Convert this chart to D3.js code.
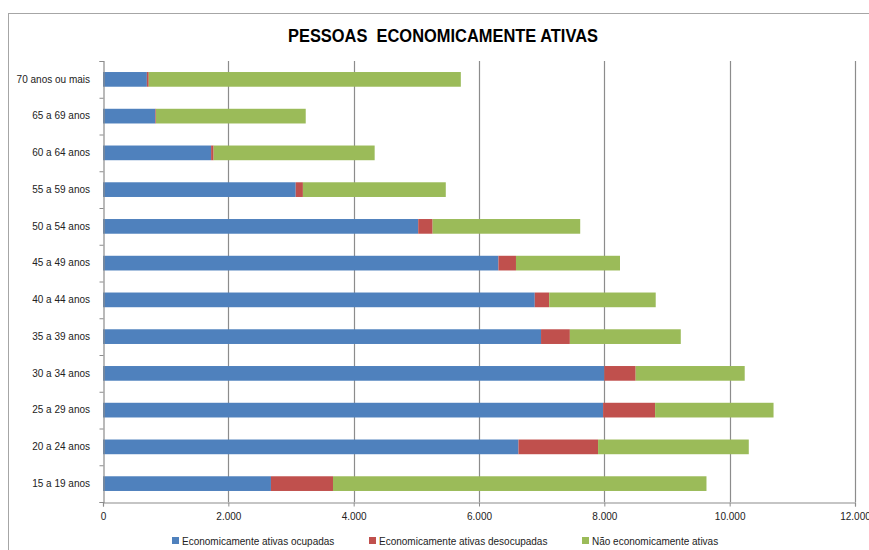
<!DOCTYPE html>
<html>
<head>
<meta charset="utf-8">
<script src="https://cdn.jsdelivr.net/npm/d3@7"></script>
<style>
  body { margin: 0; background: #fff; }
  svg { display: block; }
</style>
</head>
<body>
<div id="chart"></div>
<script>
// Faixas etarias, de baixo para cima
const categories = [
  '15 a 19 anos', '20 a 24 anos', '25 a 29 anos', '30 a 34 anos',
  '35 a 39 anos', '40 a 44 anos', '45 a 49 anos', '50 a 54 anos',
  '55 a 59 anos', '60 a 64 anos', '65 a 69 anos', '70 anos ou mais',
];
const ocupadas = [2680, 6630, 7980, 8000, 6990, 6890, 6310, 5030, 3075, 1725, 835, 700];
const desocupadas = [990, 1270, 830, 500, 460, 230, 280, 230, 115, 40, 10, 30];
const naoAtivas = [5960, 2405, 1890, 1740, 1770, 1700, 1660, 2355, 2280, 2570, 2390, 4980];
const seriesNames = [
  'Economicamente ativas ocupadas',
  'Economicamente ativas desocupadas',
  'Não economicamente ativas',
];
const colors = ['#4F81BD', '#C0504D', '#9BBB59'];
const xTicks = [0, 2000, 4000, 6000, 8000, 10000, 12000];

const width = 869;
const height = 550;
const plot = { left: 103, right: 855, top: 61, bottom: 502 };
const font = "'Liberation Sans', Arial, sans-serif";

const locale = d3.formatLocale({
  decimal: ',', thousands: '.', grouping: [3], currency: ['R$', ''],
});
const fmt = locale.format(',d');

const svg = d3.select('#chart')
  .append('svg')
  .attr('width', width)
  .attr('height', height);

// chart border
svg.append('rect')
  .attr('x', 8.5)
  .attr('y', 13.5)
  .attr('width', 900)
  .attr('height', 600)
  .attr('fill', '#fff')
  .attr('stroke', '#a6a6a6')
  .attr('stroke-width', 1);

svg.append('text')
  .attr('x', 288)
  .attr('y', 42)
  .attr('textLength', 310)
  .attr('lengthAdjust', 'spacingAndGlyphs')
  .style('font-family', font)
  .style('font-weight', 'bold')
  .style('font-size', '19px')
  .style('white-space', 'pre')
  .attr('fill', '#000')
  .text('PESSOAS  ECONOMICAMENTE ATIVAS');

const x = d3.scaleLinear().domain([0, 12000]).range([plot.left, plot.right]);
const y = d3.scaleBand()
  .domain(categories.slice().reverse())
  .range([plot.top, plot.bottom])
  .paddingInner(0.6)
  .paddingOuter(0.3);

// gridlines
svg.append('g')
  .selectAll('line')
  .data(xTicks.slice(1))
  .enter()
  .append('line')
  .attr('x1', (d) => Math.round(x(d)) + 0.5)
  .attr('x2', (d) => Math.round(x(d)) + 0.5)
  .attr('y1', plot.top)
  .attr('y2', plot.bottom)
  .attr('stroke', '#8c8c8c')
  .attr('stroke-width', 1.2);

// stacked bars
const rows = categories.map((c, i) => ({ c, v: [ocupadas[i], desocupadas[i], naoAtivas[i]] }));
rows.forEach((r) => {
  let acc = 0;
  r.v.forEach((v, k) => {
    svg.append('rect')
      .attr('x', x(acc))
      .attr('y', y(r.c))
      .attr('width', x(acc + v) - x(acc))
      .attr('height', y.bandwidth())
      .attr('fill', colors[k]);
    acc += v;
  });
});

// x axis
const xAxis = svg.append('g')
  .attr('transform', `translate(0,${plot.bottom + 0.5})`)
  .call(d3.axisBottom(x).tickValues(xTicks).tickFormat(fmt).tickSize(4).tickPadding(6));
xAxis.select('.domain').attr('stroke', '#8c8c8c').attr('stroke-width', 1.2);
xAxis.selectAll('.tick line').attr('stroke', '#8c8c8c');
xAxis.selectAll('text')
  .style('font-family', font)
  .style('font-size', '10px')
  .attr('fill', '#222');

// y axis: tick marks at band boundaries
const yLin = d3.scaleLinear().domain([0, categories.length]).range([plot.bottom, plot.top]);
const yAxis = svg.append('g')
  .attr('transform', `translate(${plot.left + 0.5},0)`)
  .call(d3.axisLeft(yLin).tickValues(d3.range(categories.length + 1)).tickFormat('').tickSize(4));
yAxis.select('.domain').attr('stroke', '#8c8c8c').attr('stroke-width', 1.2);
yAxis.selectAll('.tick line').attr('stroke', '#8c8c8c');

// category labels
const yLab = svg.append('g')
  .attr('transform', `translate(${plot.left},0)`)
  .call(d3.axisLeft(y).tickSize(0).tickPadding(13));
yLab.select('.domain').remove();
yLab.selectAll('text')
  .style('font-family', font)
  .style('font-size', '10px')
  .attr('fill', '#222');

// legend
const legendX = [172, 369, 582];
const legend = svg.append('g');
seriesNames.forEach((n, i) => {
  legend.append('rect')
    .attr('x', legendX[i])
    .attr('y', 537)
    .attr('width', 7)
    .attr('height', 7)
    .attr('fill', colors[i]);
  legend.append('text')
    .attr('x', legendX[i] + 10)
    .attr('y', 541)
    .attr('dy', '0.35em')
    .style('font-family', font)
    .style('font-size', '10px')
    .attr('fill', '#222')
    .text(n);
});
</script>
</body>
</html>
